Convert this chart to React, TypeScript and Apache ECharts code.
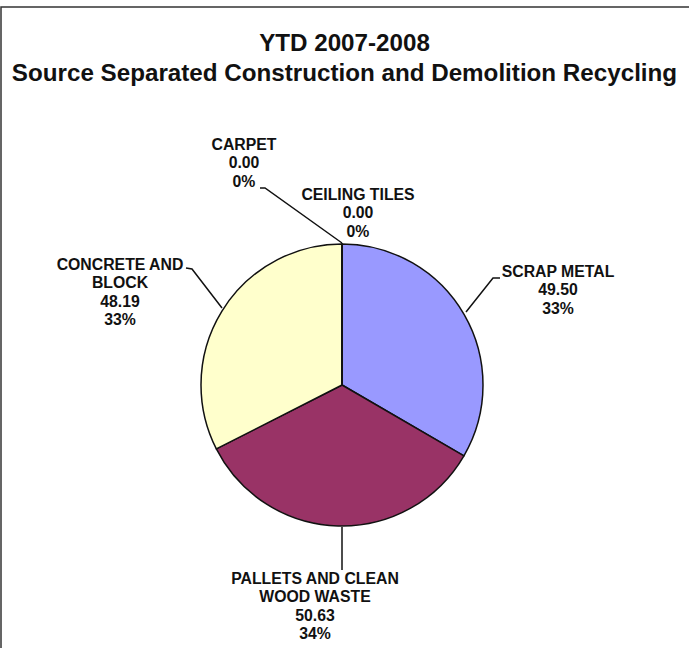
import React, { useEffect, useRef } from "react";
import * as echarts from "echarts";

const categories = [
  "SCRAP METAL",
  "PALLETS AND CLEAN\nWOOD WASTE",
  "CONCRETE AND\nBLOCK",
  "CARPET",
  "CEILING TILES",
];
const tonnage = [49.5, 50.63, 48.19, 0.0, 0.0];
const sliceColors = ["#9999FF", "#993366", "#FFFFCC", "#FFFFFF", "#FFFFFF"];
const titleLines = ["YTD 2007-2008", "Source Separated Construction and Demolition Recycling"];

const FONT = "'Liberation Sans', Arial, Helvetica, sans-serif";

// label placement (x centre, top y, leader line points) per slice
const labelPlacement: Record<number, { x: number; y: number; line: number[][] | null }> = {
  0: { x: 558, y: 262, line: [[466, 312], [493, 278], [500, 278]] },
  1: { x: 315, y: 569, line: [[342, 527], [342, 570], [342, 570]] },
  2: { x: 120, y: 255, line: [[222, 308], [192, 269], [186, 268]] },
  3: { x: 244, y: 135, line: [[342, 243], [265, 188], [260, 188]] },
  4: { x: 358, y: 185, line: null },
};

export default function App() {
  const ref = useRef<HTMLDivElement>(null);
  useEffect(() => {
    if (!ref.current) return;
    const chart = echarts.init(ref.current, null, { renderer: "svg" });
    chart.setOption({
      animation: false,
      backgroundColor: "#ffffff",
      title: {
        text: titleLines.join("\n"),
        left: "center",
        top: 27,
        padding: 0,
        textStyle: {
          fontFamily: FONT,
          fontSize: 24.2,
          lineHeight: 30,
          fontWeight: "bold",
          color: "#111",
        },
      },
      graphic: [
        {
          type: "rect",
          shape: { x: 1, y: 7, width: 760, height: 700 },
          style: { fill: "none", stroke: "#333", lineWidth: 1.5 },
          silent: true,
          z: -1,
        },
      ],
      series: [
        {
          type: "pie",
          center: [342, 385],
          radius: 141,
          startAngle: 90,
          clockwise: true,
          avoidLabelOverlap: false,
          minAngle: 0,
          percentPrecision: 0,
          data: categories.map((name, i) => ({
            name,
            value: tonnage[i],
            itemStyle: { color: sliceColors[i] },
            labelLine: { show: i !== 4 },
          })),
          itemStyle: { borderColor: "#111", borderWidth: 1.5 },
          label: {
            show: true,
            fontFamily: FONT,
            fontSize: 15.8,
            lineHeight: 18.5,
            fontWeight: "bold",
            color: "#111",
            formatter: (p: any) =>
              `${p.name}\n${Number(p.value).toFixed(2)}\n${p.percent}%`,
          },
          labelLine: {
            show: true,
            lineStyle: { color: "#111", width: 1.5 },
          },
          labelLayout: (params: any) => {
            const pl = labelPlacement[params.dataIndex];
            const out: any = {
              x: pl.x,
              y: pl.y,
              align: "center",
              verticalAlign: "top",
            };
            if (pl.line) out.labelLinePoints = pl.line;
            return out;
          },
          emphasis: { disabled: true },
        },
      ],
    });
    return () => chart.dispose();
  }, []);
  return (
    <div
      ref={ref}
      style={{ position: "fixed", left: 0, top: 0, width: 689, height: 648 }}
    />
  );
}
